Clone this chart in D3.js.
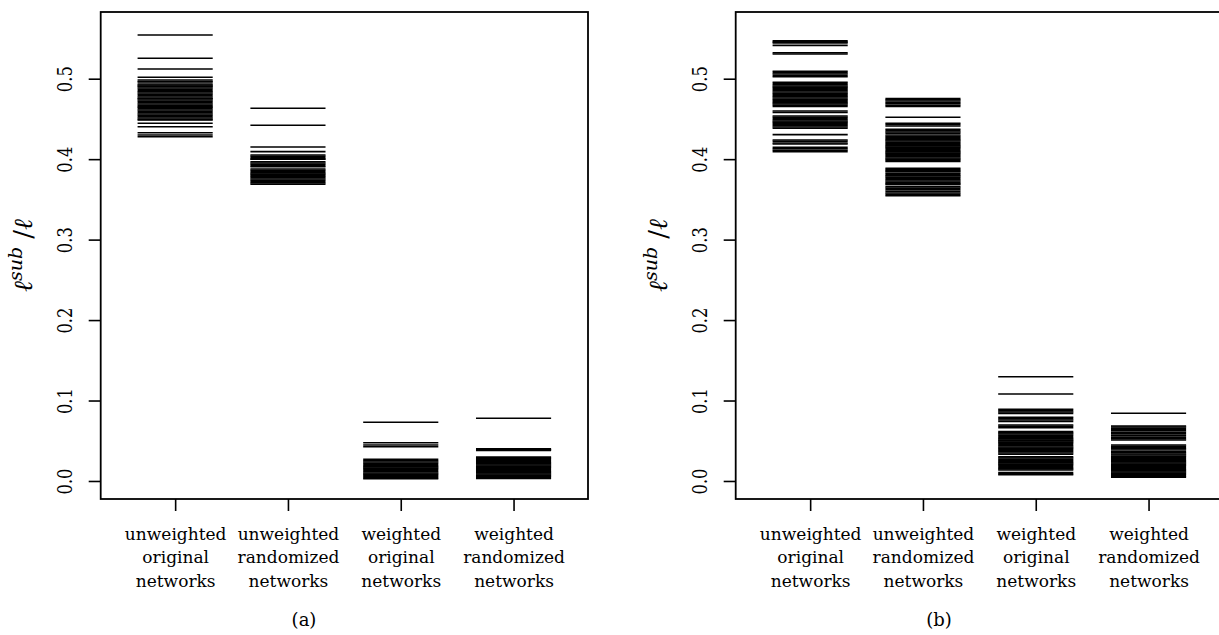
<!DOCTYPE html>
<html>
<head>
<meta charset="utf-8">
<script src="https://cdn.jsdelivr.net/npm/d3@7/dist/d3.min.js"></script>
<style>
  html, body { margin: 0; padding: 0; background: #fff; }
  svg { display: block; }
</style>
</head>
<body>
<div id="chart"></div>
<script>
// ---------------- DATA ----------------
const categories = [
  ["unweighted", "original", "networks"],
  ["unweighted", "randomized", "networks"],
  ["weighted", "original", "networks"],
  ["weighted", "randomized", "networks"]
];
const yTicks = [0.0, 0.1, 0.2, 0.3, 0.4, 0.5];
const panelLabels = ["(a)", "(b)"];

// Panel (a)
const a_unweightedOriginal = [0.5543, 0.5254, 0.5121, 0.5018, 0.4984, 0.4965, 0.4959, 0.4934, 0.4922, 0.4909,
  0.4901, 0.4884, 0.4868, 0.4851, 0.4838, 0.4822, 0.4806, 0.4790, 0.4773, 0.4756, 0.4751, 0.4735, 0.4719,
  0.4703, 0.4686, 0.4670, 0.4653, 0.4645, 0.4628, 0.4611, 0.4595, 0.4577, 0.4561, 0.4545, 0.4529, 0.4512,
  0.4495, 0.4487, 0.4446, 0.4403, 0.4329, 0.4300, 0.4279];
const a_unweightedRandomized = [0.4632, 0.4421, 0.4151, 0.4093, 0.4052, 0.4036, 0.4020, 0.4004, 0.3998,
  0.3968, 0.3952, 0.3936, 0.3920, 0.3906, 0.3878, 0.3862, 0.3846, 0.3830, 0.3814, 0.3798, 0.3785, 0.3770,
  0.3754, 0.3738, 0.3722, 0.3706, 0.3690];
const a_weightedOriginal = [0.0730, 0.0476, 0.0447, 0.0426, 0.0268, 0.0252, 0.0236, 0.0220, 0.0205, 0.0190,
  0.0175, 0.0160, 0.0145, 0.0130, 0.0115, 0.0100, 0.0085, 0.0070, 0.0055, 0.0040, 0.0027];
const a_weightedRandomized = [0.0779, 0.0399, 0.0390, 0.0380, 0.0297, 0.0283, 0.0269, 0.0255, 0.0241, 0.0227,
  0.0213, 0.0199, 0.0185, 0.0171, 0.0157, 0.0143, 0.0129, 0.0115, 0.0101, 0.0087, 0.0073, 0.0059, 0.0045, 0.0031];

// Panel (b)
const b_unweightedOriginal = [0.5472, 0.5458, 0.5445, 0.5414, 0.5323, 0.5307, 0.5093, 0.5075, 0.5058, 0.5040,
  0.5025, 0.4955, 0.4940, 0.4925, 0.4910, 0.4895, 0.4880, 0.4865, 0.4850, 0.4835, 0.4820, 0.4805, 0.4790,
  0.4775, 0.4760, 0.4745, 0.4730, 0.4715, 0.4700, 0.4685, 0.4670, 0.4655, 0.4599, 0.4580, 0.4536, 0.4520,
  0.4505, 0.4490, 0.4475, 0.4460, 0.4445, 0.4430, 0.4415, 0.4400, 0.4385, 0.4305, 0.4238, 0.4222, 0.4200,
  0.4188, 0.4147, 0.4130, 0.4110, 0.4093];
const b_unweightedRandomized = [0.4752, 0.4738, 0.4722, 0.4705, 0.4690, 0.4670, 0.4655, 0.4520, 0.4446, 0.4430,
  0.4412, 0.4371, 0.4355, 0.4338, 0.4322, 0.4300, 0.4285, 0.4270, 0.4255, 0.4240, 0.4225, 0.4210, 0.4195,
  0.4180, 0.4165, 0.4150, 0.4135, 0.4120, 0.4105, 0.4090, 0.4075, 0.4060, 0.4045, 0.4030, 0.4015, 0.4000,
  0.3985, 0.3970, 0.3886, 0.3870, 0.3855, 0.3844, 0.3824, 0.3808, 0.3792, 0.3776, 0.3760, 0.3744, 0.3728,
  0.3712, 0.3696, 0.3687, 0.3658, 0.3640, 0.3620, 0.3600, 0.3580, 0.3562, 0.3546];
const b_weightedOriginal = [0.1296, 0.1081, 0.0891, 0.0875, 0.0858, 0.0840, 0.0792, 0.0775, 0.0758, 0.0740,
  0.0696, 0.0680, 0.0662, 0.0613, 0.0598, 0.0583, 0.0568, 0.0553, 0.0538, 0.0523, 0.0510, 0.0498, 0.0483,
  0.0468, 0.0453, 0.0438, 0.0423, 0.0408, 0.0393, 0.0378, 0.0363, 0.0348, 0.0333, 0.0300, 0.0285, 0.0270,
  0.0255, 0.0240, 0.0225, 0.0210, 0.0195, 0.0180, 0.0165, 0.0150, 0.0137, 0.0105, 0.0090, 0.0078];
const b_weightedRandomized = [0.0841, 0.0684, 0.0670, 0.0655, 0.0640, 0.0625, 0.0605, 0.0585, 0.0565, 0.0545,
  0.0525, 0.0510, 0.0447, 0.0432, 0.0415, 0.0400, 0.0385, 0.0364, 0.0350, 0.0336, 0.0322, 0.0308, 0.0294,
  0.0280, 0.0266, 0.0252, 0.0238, 0.0224, 0.0210, 0.0196, 0.0182, 0.0168, 0.0154, 0.0140, 0.0126, 0.0112,
  0.0098, 0.0084, 0.0070, 0.0056, 0.0046];

const panelA = [a_unweightedOriginal, a_unweightedRandomized, a_weightedOriginal, a_weightedRandomized];
const panelB = [b_unweightedOriginal, b_unweightedRandomized, b_weightedOriginal, b_weightedRandomized];

// ---------------- DRAW ----------------
const FONT = "'DejaVu Serif', 'Liberation Serif', serif";
const W = 1219, H = 635;
const svg = d3.select("#chart").append("svg").attr("width", W).attr("height", H)
  .attr("font-family", FONT);

function drawPanel(dx, groups, label) {
  const g = svg.append("g").attr("transform", `translate(${dx},0)`);
  const x = d3.scaleLinear().domain([0.34, 4.66]).range([100.7, 588]);
  const y = d3.scaleLinear().domain([-0.0224, 0.5829]).range([499, 12]);

  // strips
  groups.forEach((vals, i) => {
    g.append("g").selectAll("line").data(vals).join("line")
      .attr("x1", x(i + 1 - 0.333)).attr("x2", x(i + 1 + 0.333))
      .attr("y1", d => y(d)).attr("y2", d => y(d))
      .attr("stroke", "#000").attr("stroke-width", 1.6);
  });

  // box
  g.append("rect")
    .attr("x", x.range()[0]).attr("y", y.range()[1])
    .attr("width", x.range()[1] - x.range()[0])
    .attr("height", y.range()[0] - y.range()[1])
    .attr("fill", "none").attr("stroke", "#000").attr("stroke-width", 1.8);

  // y axis
  const yAxis = d3.axisLeft(y).tickValues(yTicks).tickSize(12).tickFormat(d3.format(".1f"));
  const ya = g.append("g").attr("transform", `translate(${x.range()[0]},0)`).call(yAxis);
  ya.attr("font-family", FONT);
  ya.select(".domain").remove();
  ya.selectAll(".tick line").attr("stroke", "#000").attr("stroke-width", 1.6);
  ya.selectAll(".tick text").remove();
  ya.selectAll(".tick").append("text")
    .attr("transform", "translate(-35.7,0) rotate(-90) scale(0.82,1)")
    .attr("text-anchor", "middle").attr("dominant-baseline", "central")
    .attr("font-family", FONT).attr("font-size", 20).attr("fill", "#000")
    .text(d => d3.format(".1f")(d));

  // x axis
  const xAxis = d3.axisBottom(x).tickValues([1, 2, 3, 4]).tickSize(12).tickFormat("");
  const xa = g.append("g").attr("transform", `translate(0,${y.range()[0]})`).call(xAxis);
  xa.attr("font-family", FONT);
  xa.select(".domain").remove();
  xa.selectAll(".tick line").attr("stroke", "#000").attr("stroke-width", 1.6);
  xa.selectAll(".tick").each(function(d) {
    const t = d3.select(this).append("text").attr("text-anchor", "middle")
      .attr("font-family", FONT).attr("font-size", 17).attr("fill", "#000");
    categories[d - 1].forEach((line, k) => {
      t.append("tspan").attr("x", 0).attr("y", 40.5 + k * 23.5).text(line);
    });
  });

  // y label
  const yl = g.append("text")
    .attr("transform", `translate(32,${(y.range()[0] + y.range()[1]) / 2}) rotate(-90)`)
    .attr("text-anchor", "middle").attr("font-family", FONT).attr("font-size", 26);
  yl.append("tspan").attr("font-style", "italic").text("\u2113");
  yl.append("tspan").attr("font-style", "italic").attr("font-size", 19).attr("dy", -10).text("sub");
  yl.append("tspan").attr("dy", 10).text(" /");
  yl.append("tspan").attr("font-style", "italic").text("\u2113");

  // panel label
  g.append("text").attr("x", 304).attr("y", 626).attr("text-anchor", "middle")
    .attr("font-family", FONT).attr("font-size", 18).text(label);
}

drawPanel(0, panelA, panelLabels[0]);
drawPanel(635, panelB, panelLabels[1]);
</script>
</body>
</html>
